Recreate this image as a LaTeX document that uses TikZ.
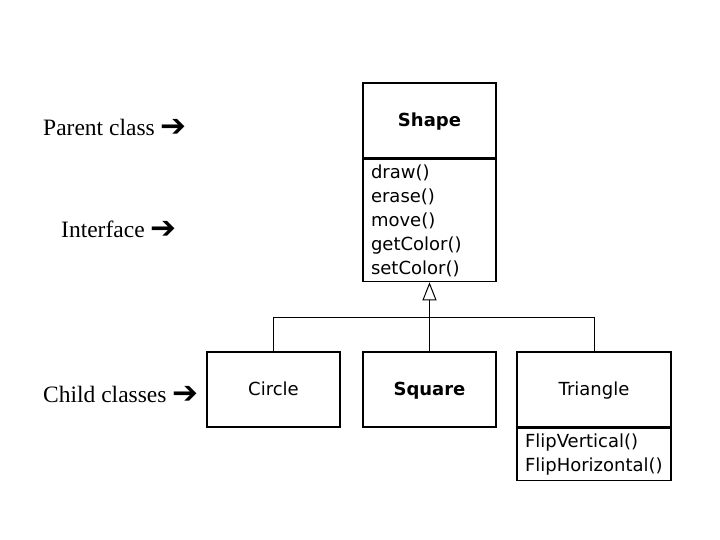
\documentclass[tikz,border=0pt]{standalone}
\usepackage{fontspec}
\setmainfont{Liberation Serif}
\newfontfamily\umlfont{DejaVu Sans}
\usetikzlibrary{arrows.meta}
\usetikzlibrary{positioning}
\tikzstyle{class} = [rectangle, minimum width=133pt, minimum height=75pt, text centered, text height=14pt, text depth=2pt, draw=black, line width=1.5pt, inner sep=0pt, font=\umlfont\fontsize{18}{24}\selectfont]
\tikzstyle{members} = [rectangle, draw=black, line width=1.5pt, inner xsep=8pt, inner ysep=0pt, align=left, font=\umlfont\fontsize{18}{24}\selectfont]
\tikzstyle{note} = [anchor=west, inner sep=0pt, font=\fontsize{23.5}{28}\selectfont]
\tikzstyle{link} = [line width=1pt]
\newcommand{\pointer}{{\umlfont\fontsize{31}{31}\selectfont\raisebox{-1pt}{➔}}}

\begin{document}
\begin{tikzpicture}[x=1pt, y=-1pt, node distance=0pt]
\useasboundingbox (0,0) rectangle (720,540);

\node (shape) [class] at (429.5,120.5) {\textbf{Shape}};
\node (shapeops) [members, below=0pt of shape, minimum width=133pt, minimum height=122pt, text width=117pt] {draw()\\erase()\\move()\\getColor()\\setColor()};

\node (circle) [class] at (273.5,389.5) {Circle};
\node (square) [class] at (429.5,389.5) {\textbf{Square}};
\node (triangle) [class, minimum width=154pt] at (594,389.5) {Triangle};
\node (triangleops) [members, below=0pt of triangle, minimum width=154pt, minimum height=52pt, text width=138pt] {FlipVertical()\\FlipHorizontal()};

\coordinate (junction) at (429.5,317.5);
\draw[link] (circle.north) |- (junction) -| (triangle.north);
\draw[link, -{Triangle[open, length=18pt, width=14pt, line width=1pt]}] (square.north) -- (shapeops.south);

\node (parentnote) [note] at (43,128) {Parent class \pointer};
\node (interfacenote) [note] at (61,230) {Interface \pointer};
\node (childnote) [note] at (43,395) {Child classes \pointer};
\end{tikzpicture}
\end{document}
